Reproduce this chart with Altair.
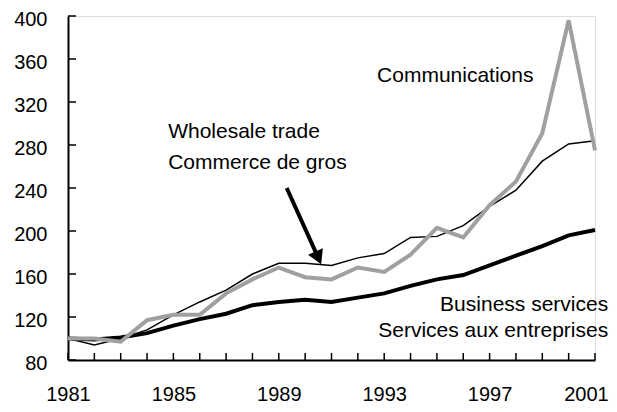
import altair as alt
import pandas as pd

# ---- data ----
years = list(range(1981, 2002))
wholesale = [100, 94, 100, 108, 122, 134, 145, 160, 170, 170, 168, 175, 179, 194, 195, 205, 223, 238, 265, 281, 284]
communications = [100, 100, 97, 117, 122, 122, 142, 155, 166, 157, 155, 166, 162, 178, 203, 194, 224, 246, 291, 396, 275]
business = [100, 99, 101, 105, 112, 118, 123, 131, 134, 136, 134, 138, 142, 149, 155, 159, 168, 177, 186, 196, 201]

x_labels = [1981, 1985, 1989, 1993, 1997, 2001]
y_ticks = [80, 120, 160, 200, 240, 280, 320, 360, 400]

# annotation texts (data coordinates)
ann_text = ["Wholesale trade", "Commerce de gros", "Communications"]
ann_x = [1984.8, 1984.8, 1992.73]
ann_y = [286.5, 257.7, 338.6]
ann_r_text = ["Business services", "Services aux entreprises"]
ann_r_x = [2001.5, 2001.5]
ann_r_y = [125.6, 101.4]
arrow_x = [1989.3, 1990.5]
arrow_y = [240.0, 175.0]

W, H = 527, 344
FONT = "Liberation Sans"

xscale = alt.Scale(domain=[1981, 2001], nice=False, zero=False)
yscale = alt.Scale(domain=[80, 400], nice=False, zero=False)

df_w = pd.DataFrame({"year": years, "v": wholesale})
df_c = pd.DataFrame({"year": years, "v": communications})
df_b = pd.DataFrame({"year": years, "v": business})

xenc = alt.X("year:Q", scale=xscale, title=None,
             axis=alt.Axis(values=x_labels, format="d", ticks=False, tickSize=0,
                           labelPadding=24, labelFontSize=20, labelFont=FONT,
                           labelColor="black", domainColor="black", domainWidth=2,
                           grid=False, labelFlush=False,
                           labelOffset={"condition": {"test": "datum.value == 2001", "value": -9}, "value": 0}))
yenc = alt.Y("v:Q", scale=yscale, title=None,
             axis=alt.Axis(values=y_ticks, ticks=False, tickSize=0, labelPadding=21,
                           labelFontSize=20, labelFont=FONT, labelColor="black",
                           labelOffset=3, labelFlush=False,
                           domainColor="black", domainWidth=2, grid=False))

line_b = alt.Chart(df_b).mark_line(color="black", strokeWidth=4).encode(x=xenc, y=yenc)
line_w = alt.Chart(df_w).mark_line(color="black", strokeWidth=1.5).encode(
    x=alt.X("year:Q", scale=xscale), y=alt.Y("v:Q", scale=yscale))
line_c = alt.Chart(df_c).mark_line(color="#a0a0a0", strokeWidth=4).encode(
    x=alt.X("year:Q", scale=xscale), y=alt.Y("v:Q", scale=yscale))

# inward tick marks
xt = alt.Chart(pd.DataFrame({"year": years})).mark_rule(color="black", strokeWidth=1.5).encode(
    x=alt.X("year:Q", scale=xscale), y=alt.value(H), y2=alt.value(H - 7))
yt = alt.Chart(pd.DataFrame({"v": y_ticks})).mark_rule(color="black", strokeWidth=1.5).encode(
    y=alt.Y("v:Q", scale=yscale), x=alt.value(0), x2=alt.value(8))

txt_l = alt.Chart(pd.DataFrame({"t": ann_text, "year": ann_x, "v": ann_y})).mark_text(
    align="left", baseline="alphabetic", fontSize=21, font=FONT, color="black").encode(
    x=alt.X("year:Q", scale=xscale), y=alt.Y("v:Q", scale=yscale), text="t:N")
txt_r = alt.Chart(pd.DataFrame({"t": ann_r_text, "year": ann_r_x, "v": ann_r_y})).mark_text(
    align="right", baseline="alphabetic", fontSize=21, font=FONT, color="black").encode(
    x=alt.X("year:Q", scale=xscale), y=alt.Y("v:Q", scale=yscale), text="t:N")

arrow_line = alt.Chart(pd.DataFrame({"year": arrow_x, "v": arrow_y})).mark_line(
    color="black", strokeWidth=4).encode(
    x=alt.X("year:Q", scale=xscale), y=alt.Y("v:Q", scale=yscale))
arrow_head = alt.Chart(pd.DataFrame({"year": arrow_x[1:], "v": arrow_y[1:]})).mark_point(
    shape="triangle-down", filled=True, color="black", size=260, angle=336, opacity=1).encode(
    x=alt.X("year:Q", scale=xscale), y=alt.Y("v:Q", scale=yscale))

chart = alt.layer(line_b, line_w, line_c, xt, yt, txt_l, txt_r, arrow_line, arrow_head).properties(
    width=W, height=H,
    autosize=alt.AutoSizeParams(type="none"),
    padding={"left": 60, "top": 8, "right": 14, "bottom": 44},
).configure_view(stroke=None).configure(background="white")

chart.save("out.html", embed_options={"renderer": "svg", "actions": False})
